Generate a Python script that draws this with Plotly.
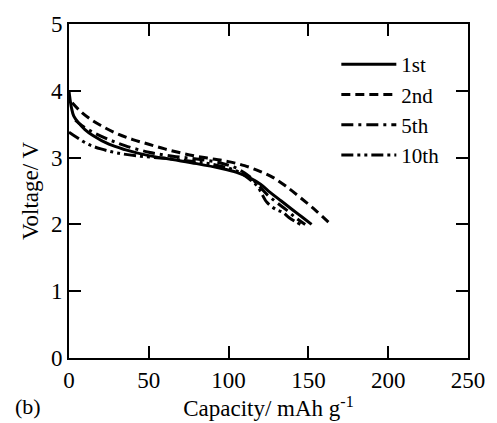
import plotly.graph_objects as go

cap_1st = [0, 0.5, 1.5, 3, 6, 10, 15, 25, 35, 50, 65, 80, 95, 105, 113, 120, 126, 133, 140, 146, 152]
v_1st = [4.0, 3.9, 3.75, 3.62, 3.52, 3.42, 3.33, 3.2, 3.12, 3.03, 2.97, 2.91, 2.84, 2.78, 2.7, 2.6, 2.48, 2.35, 2.22, 2.11, 2.0]

cap_2nd = [2, 6, 12, 20, 30, 40, 50, 60, 70, 80, 90, 100, 110, 120, 128, 136, 145, 155, 164]
v_2nd = [3.82, 3.72, 3.6, 3.48, 3.36, 3.27, 3.2, 3.13, 3.07, 3.02, 2.98, 2.94, 2.88, 2.79, 2.7, 2.57, 2.4, 2.2, 2.0]

cap_5th = [4, 8, 15, 25, 35, 50, 65, 80, 95, 105, 113, 118, 124, 130, 136, 142, 148]
v_5th = [3.56, 3.48, 3.38, 3.27, 3.18, 3.08, 3.02, 2.98, 2.92, 2.84, 2.72, 2.6, 2.45, 2.33, 2.22, 2.1, 2.0]

cap_10th = [0, 5, 12, 20, 30, 45, 60, 75, 90, 105, 113, 118, 121, 124, 130, 134, 138, 142, 145]
v_10th = [3.38, 3.3, 3.2, 3.13, 3.07, 3.02, 2.99, 2.95, 2.9, 2.8, 2.68, 2.57, 2.45, 2.33, 2.22, 2.18, 2.1, 2.04, 2.0]

names = ["1st", "2nd", "5th", "10th"]
dashes = ["solid", "9px,5px", "12px,5px,3px,5px", "12px,4px,3px,4px,3px,4px"]

x_ticks = [0, 50, 100, 150, 200, 250]
y_ticks = [0, 1, 2, 3, 4, 5]

fig = go.Figure()
for name, xs, ys, d in zip(names, [cap_1st, cap_2nd, cap_5th, cap_10th],
                           [v_1st, v_2nd, v_5th, v_10th], dashes):
    fig.add_trace(go.Scatter(x=xs, y=ys, mode="lines", name=name,
                             line=dict(color="black", width=3, dash=d, shape="spline")))

font = "Liberation Serif, Times New Roman, serif"
axis_common = dict(showgrid=False, zeroline=False, showline=True, linecolor="black",
                   linewidth=2, mirror="ticks", ticks="inside", ticklen=12, tickwidth=2,
                   tickcolor="black", tickfont=dict(family=font, size=23, color="black"))

fig.update_layout(
    width=497, height=423,
    margin=dict(l=69, r=21, t=23, b=64),
    paper_bgcolor="white", plot_bgcolor="white",
    font=dict(family=font, size=23, color="black"),
    xaxis=dict(range=[0, 250], tickvals=x_ticks, **axis_common,
               title=dict(text="Capacity/ mAh g<sup>-1</sup>", font=dict(family=font, size=23), standoff=2)),
    yaxis=dict(range=[0, 5], tickvals=y_ticks, **axis_common,
               title=dict(text="Voltage/ V", font=dict(family=font, size=23), standoff=6)),
    legend=dict(x=0.67, y=0.94, xanchor="left", yanchor="top", bgcolor="rgba(0,0,0,0)",
                font=dict(family=font, size=21), itemwidth=55, tracegroupgap=0),
    annotations=[dict(text="(b)", xref="paper", yref="paper", x=-0.14, y=-0.145,
                      xanchor="left", yanchor="middle", showarrow=False,
                      font=dict(family=font, size=22))],
)

fig.write_html("out.html")
